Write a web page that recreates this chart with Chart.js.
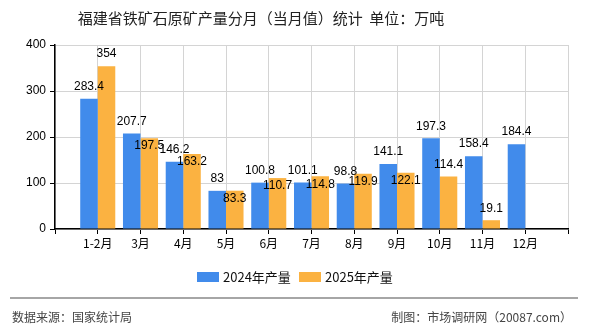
<!DOCTYPE html>
<html lang="zh">
<head>
    <meta charset="UTF-8">
    <title>福建省铁矿石原矿产量分月统计</title>
    <style>
        body {
            margin: 0;
            background-color: #ffffff;
        }
        #wrap {
            position: relative;
            width: 590px;
            height: 330px;
        }
    </style>
</head>
<body>
    <div id="wrap">
        <canvas id="barChart" width="590" height="330"></canvas>
    </div>
    <script src="https://cdn.jsdelivr.net/npm/chart.js"></script>
    <script>
        // Data (empty category at both ends, as in the original axis)
        const months = ['', '1-2月', '3月', '4月', '5月', '6月', '7月', '8月', '9月', '10月', '11月', '12月', ''];
        const output2024 = [null, 283.4, 207.7, 146.2, 83, 100.8, 101.1, 98.8, 141.1, 197.3, 158.4, 184.4, null];
        const output2025 = [null, 354, 197.5, 163.2, 83.3, 110.7, 114.8, 119.9, 122.1, 114.4, 19.1, null, null];
        const yTicks = [0, 100, 200, 300, 400];

        const titleText = '福建省铁矿石原矿产量分月（当月值）统计  单位：万吨';
        const sourceText = '数据来源：国家统计局';
        const creditText = '制图：市场调研网（20087.com）';

        const blue = '#418beb';
        const orange = '#fbb241';
        const cjk = '"Noto Sans CJK SC", "Noto Sans", sans-serif';

        // Title, legend, footer and value labels
        const decorPlugin = {
            id: 'decor',
            afterDatasetsDraw(chart) {
                const ctx = chart.ctx;
                ctx.save();

                // value labels: 2024 above, 2025 above unless it hits another label
                ctx.font = '12px "Liberation Sans", Arial, sans-serif';
                ctx.fillStyle = '#000';
                ctx.textAlign = 'center';
                ctx.textBaseline = 'middle';
                const placed = [];
                const hits = (r) => placed.some(p => r.x1 < p.x2 && r.x2 > p.x1 && r.y1 < p.y2 && r.y2 > p.y1);
                chart.data.datasets.forEach((ds, di) => {
                    const meta = chart.getDatasetMeta(di);
                    meta.data.forEach((bar, i) => {
                        const v = ds.data[i];
                        if (v === null) return;
                        const txt = String(v);
                        const w = ctx.measureText(txt).width;
                        let y = bar.y - 12;
                        let r = { x1: bar.x - w / 2, x2: bar.x + w / 2, y1: y - 6, y2: y + 6 };
                        if (hits(r)) {
                            y = bar.y + 8;
                            r = { x1: bar.x - w / 2, x2: bar.x + w / 2, y1: y - 6, y2: y + 6 };
                        }
                        placed.push(r);
                        ctx.fillText(txt, bar.x, y);
                    });
                });

                // title
                ctx.font = '15px ' + cjk;
                ctx.fillStyle = '#222';
                ctx.fillText(titleText, 261, 18);

                // legend
                ctx.font = '13px ' + cjk;
                ctx.textAlign = 'left';
                let lx = 197;
                chart.data.datasets.forEach((ds) => {
                    ctx.fillStyle = ds.backgroundColor;
                    ctx.fillRect(lx, 272, 22, 10);
                    ctx.fillStyle = '#111';
                    ctx.fillText(ds.label, lx + 26, 277);
                    lx += 102;
                });

                // footer line and texts
                ctx.strokeStyle = '#888';
                ctx.lineWidth = 1.5;
                ctx.beginPath();
                ctx.moveTo(10, 298);
                ctx.lineTo(578, 298);
                ctx.stroke();

                ctx.font = '12px ' + cjk;
                ctx.fillStyle = '#444';
                ctx.fillText(sourceText, 12, 317);
                ctx.textAlign = 'right';
                ctx.fillText(creditText, 572, 317);
                ctx.restore();
            }
        };

        const ctx = document.getElementById('barChart').getContext('2d');
        const barChart = new Chart(ctx, {
            type: 'bar',
            data: {
                labels: months,
                datasets: [
                    {
                        label: '2024年产量',
                        data: output2024,
                        backgroundColor: blue
                    },
                    {
                        label: '2025年产量',
                        data: output2025,
                        backgroundColor: orange
                    }
                ]
            },
            options: {
                responsive: false,
                animation: false,
                layout: {
                    padding: { top: 45, left: 0, right: 22, bottom: 0 }
                },
                datasets: {
                    bar: {
                        categoryPercentage: 0.82,
                        barPercentage: 1
                    }
                },
                plugins: {
                    legend: { display: false },
                    title: { display: false },
                    tooltip: { enabled: false }
                },
                scales: {
                    x: {
                        offset: false,
                        afterFit: (s) => { s.height = 101; },
                        grid: {
                            color: '#d4d4d4',
                            tickColor: '#000',
                            tickLength: 5,
                            offset: false
                        },
                        border: { color: '#000', width: 1.5 },
                        ticks: {
                            color: '#000',
                            font: { size: 12, family: cjk },
                            padding: 2,
                            maxRotation: 0,
                            autoSkip: false
                        }
                    },
                    y: {
                        min: yTicks[0],
                        max: yTicks[yTicks.length - 1],
                        afterFit: (s) => { s.width = 55; },
                        afterBuildTicks: (s) => { s.ticks = yTicks.map(v => ({ value: v })); },
                        grid: {
                            color: '#d4d4d4',
                            tickColor: '#000',
                            tickLength: 5
                        },
                        border: { color: '#000', width: 1.5 },
                        ticks: {
                            color: '#000',
                            font: { size: 12, family: '"Liberation Sans", Arial, sans-serif' },
                            padding: 4
                        }
                    }
                }
            },
            plugins: [decorPlugin]
        });
    </script>
</body>
</html>
